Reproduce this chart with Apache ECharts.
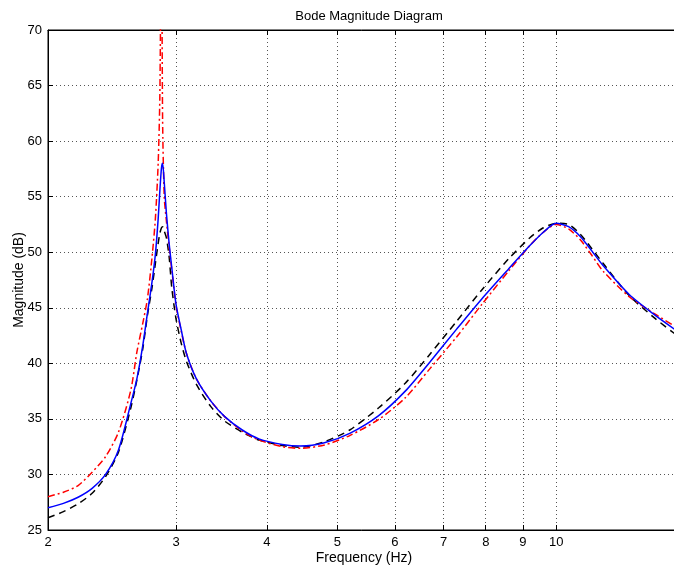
<!DOCTYPE html>
<html>
<head>
<meta charset="utf-8">
<script src="https://cdn.jsdelivr.net/npm/echarts@6/dist/echarts.min.js"></script>
<style>
  html, body { margin: 0; padding: 0; background: #fff; }
  #chart { width: 674px; height: 572px; }
</style>
</head>
<body>
<div id="chart"></div>
<script>
// Frequency samples (Hz), denser around the first resonance
const freq = [2.0, 2.1, 2.2, 2.3, 2.4, 2.5, 2.6, 2.65, 2.7, 2.74, 2.78, 2.81, 2.835, 2.85, 2.865, 2.875,
  2.89, 2.91, 2.935, 2.96, 3.0, 3.05, 3.1, 3.2, 3.35, 3.5, 3.7, 3.9, 4.2, 4.45, 4.8, 5.2, 5.7, 6.2,
  6.7, 7.3, 7.9, 8.6, 9.2, 9.6, 10.0, 10.4, 10.8, 11.2, 11.6, 12.6, 13.7, 14.6];

// Magnitude (dB) of each response
const magBlue = [27.0, 27.4, 27.95, 28.75, 30.0, 32.2, 36.4, 38.6, 41.6, 44.5, 47.3, 49.8, 53.0, 55.5, 57.6, 58.0,
  56.3, 53.5, 50.8, 48.6, 45.3, 43.0, 40.9, 38.6, 36.6, 35.2, 34.0, 33.2, 32.7, 32.55, 32.85, 33.7, 35.3, 37.5,
  40.1, 43.1, 45.8, 48.5, 50.6, 51.8, 52.6, 52.3, 51.4, 50.1, 48.8, 46.2, 44.3, 43.0];

const magRed = [28.0, 28.4, 29.0, 30.2, 31.6, 33.8, 37.6, 41.0, 43.6, 45.8, 49.5, 53.0, 58.0, 64.0, 80.0, 62.0,
  55.0, 52.8, 50.5, 48.4, 45.2, 42.9, 40.9, 38.6, 36.6, 35.2, 33.9, 33.1, 32.5, 32.35, 32.65, 33.5, 34.95, 36.9,
  39.5, 42.4, 45.3, 48.3, 50.6, 51.8, 52.5, 52.1, 51.1, 49.7, 48.3, 46.0, 44.4, 43.3];

const magBlack = [26.1, 26.65, 27.35, 28.3, 29.8, 32.0, 36.0, 38.5, 41.3, 44.3, 46.8, 49.0, 50.8, 51.7, 52.2, 52.3,
  51.9, 51.3, 49.6, 46.8, 44.0, 41.8, 40.2, 38.1, 36.1, 34.8, 33.8, 33.1, 32.6, 32.45, 32.95, 34.0, 36.0, 38.2,
  40.8, 43.8, 46.6, 49.4, 51.3, 52.2, 52.6, 52.5, 51.6, 50.3, 49.0, 46.1, 44.0, 42.6];

// Axis ticks
const xTicks = [2, 3, 4, 5, 6, 7, 8, 9, 10];
const xMin = 2, xMax = 14.8;
const yMin = 25, yMax = 70, yStep = 5;

const pairs = vals => freq.map((f, i) => [f, vals[i]]);

const font = 'Liberation Sans, Arial, Helvetica, sans-serif';

const xAxisBase = {
  type: 'log',
  logBase: 10,
  min: xMin,
  max: xMax,
  axisLine: { show: true, lineStyle: { color: '#000', width: 1 } },
  axisTick: { show: true, inside: true, length: 5, customValues: xTicks, lineStyle: { color: '#000' } },
  axisLabel: { customValues: xTicks, color: '#000', fontFamily: font, fontSize: 13, margin: 6 },
  minorTick: { show: false },
  minorSplitLine: { show: false }
};

const chart = echarts.init(document.getElementById('chart'), null, { renderer: 'canvas' });
chart.setOption({
  animation: false,
  backgroundColor: '#fff',
  title: {
    text: 'Bode Magnitude Diagram',
    left: 364,
    top: 5,
    textAlign: 'center',
    textStyle: { fontFamily: font, fontSize: 13, fontWeight: 'normal', color: '#000' }
  },
  grid: {
    left: 48, top: 30, width: 632, height: 500,
    containLabel: false, outerBoundsMode: 'none',
    show: true, borderColor: '#000', borderWidth: 1
  },
  xAxis: [
    Object.assign({}, xAxisBase, {
      position: 'bottom',
      name: 'Frequency (Hz)',
      nameLocation: 'middle',
      nameGap: 21,
      nameMoveOverlap: false,
      nameTextStyle: { fontFamily: font, fontSize: 14, color: '#000' },
      splitLine: { show: true, lineStyle: { color: '#555', type: [1, 3], width: 1 } }
    }),
    Object.assign({}, xAxisBase, {
      position: 'top',
      axisLabel: { show: false },
      splitLine: { show: false }
    })
  ],
  yAxis: [
    {
      type: 'value',
      min: yMin,
      max: yMax,
      interval: yStep,
      name: 'Magnitude (dB)',
      nameLocation: 'middle',
      nameGap: 22,
      nameMoveOverlap: false,
      nameTextStyle: { fontFamily: font, fontSize: 14, color: '#000' },
      axisLine: { show: true, lineStyle: { color: '#000', width: 1 } },
      axisTick: { show: true, inside: true, length: 5, lineStyle: { color: '#000' } },
      axisLabel: { color: '#000', fontFamily: font, fontSize: 13, margin: 6 },
      splitLine: { show: true, lineStyle: { color: '#555', type: [1, 3], width: 1 } }
    }
  ],
  series: [
    {
      name: 'black', type: 'line', data: pairs(magBlack), showSymbol: false, smooth: 0.25, clip: true,
      lineStyle: { color: '#000', width: 1.5, type: [7, 5] }, z: 2
    },
    {
      name: 'red', type: 'line', data: pairs(magRed), showSymbol: false, smooth: 0.25, clip: true,
      lineStyle: { color: '#ff0000', width: 1.5, type: [7, 3, 2, 3] }, z: 3
    },
    {
      name: 'blue', type: 'line', data: pairs(magBlue), showSymbol: false, smooth: 0.25, clip: true,
      lineStyle: { color: '#0000ff', width: 1.5 }, z: 4
    }
  ]
});
</script>
</body>
</html>
